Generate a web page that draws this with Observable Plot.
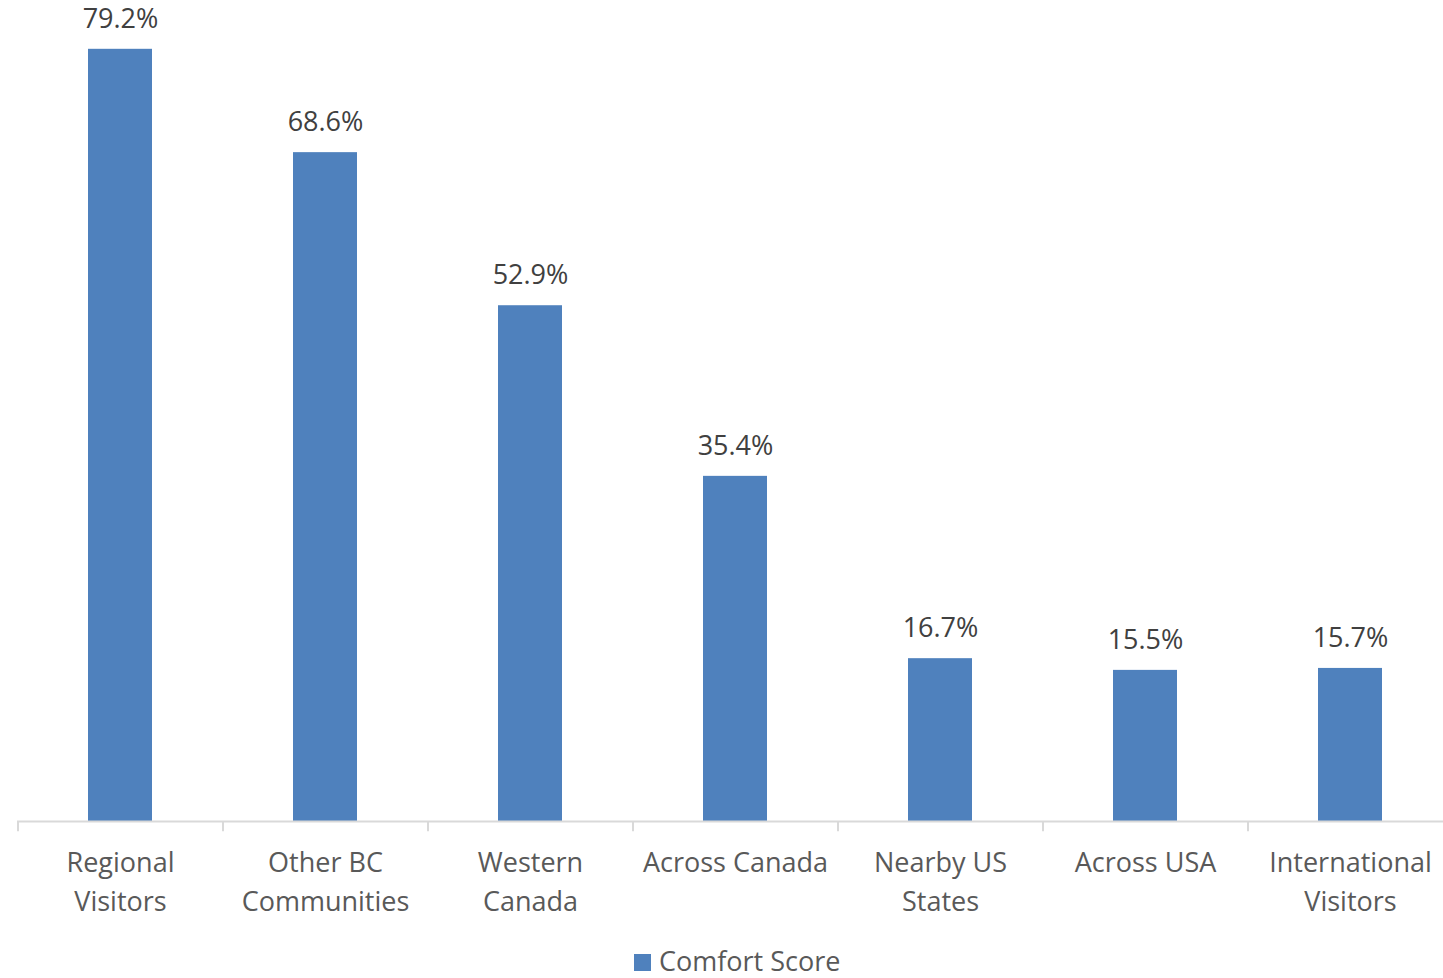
<!DOCTYPE html>
<html>
<head>
<meta charset="utf-8">
<script src="https://cdn.jsdelivr.net/npm/d3@7"></script>
<script src="https://cdn.jsdelivr.net/npm/@observablehq/plot@0.6"></script>
<style>
  html, body { margin: 0; padding: 0; background: #fff; overflow: hidden; }
  #chart svg { display: block; overflow: visible; }
  #legend { position: relative; height: 48px; font-family: "Open Sans", sans-serif; font-size: 27px; color: #595959; }
  #legend .item { position: absolute; left: 634px; top: 12px; display: flex; align-items: center; white-space: nowrap; }
  #legend .sw { width: 17px; height: 17px; background: #4F81BD; margin-right: 8px; margin-top: 4px; }
</style>
</head>
<body>
<div id="chart"></div>
<div id="legend"><div class="item"><span class="sw"></span><span>Comfort Score</span></div></div>
<script>
const categories = ["Regional Visitors", "Other BC Communities", "Western Canada", "Across Canada", "Nearby US States", "Across USA", "International Visitors"];
const tickLabels = ["Regional\nVisitors", "Other BC\nCommunities", "Western\nCanada", "Across Canada", "Nearby US\nStates", "Across USA", "International\nVisitors"];
const comfortScore = [79.2, 68.6, 52.9, 35.4, 16.7, 15.5, 15.7];
const seriesName = "Comfort Score";

const data = categories.map((c, i) => ({category: c, label: tickLabels[i], value: comfortScore[i]}));

const fontFamily = "'Open Sans', sans-serif";
const chart = Plot.plot({
  width: 1443,
  height: 930,
  marginLeft: 17,
  marginRight: 0,
  marginTop: 41,
  marginBottom: 109,
  style: {fontFamily, background: "#fff", overflow: "visible"},
  x: {domain: categories, range: [17, 1452], paddingInner: 0.688, paddingOuter: 0.344, axis: null},
  y: {domain: [0, 80], axis: null},
  marks: [
    Plot.barY(data, {x: "category", y: "value", fill: "#4F81BD"}),
    Plot.ruleY([0], {stroke: "#D9D9D9", strokeWidth: 2}),
    Plot.ruleX(data, {x: "category", dx: -102.5, y1: 0, y2: -1.05, stroke: "#D9D9D9", strokeWidth: 2}),
    Plot.text(data, {x: "category", y: "value", text: d => d.value.toFixed(1) + "%", dy: -30, fontSize: 27, fill: "#404040"}),
    Plot.text(data, {x: "category", y: 0, text: "label", dy: 23, lineAnchor: "top", lineHeight: 1.45, fontSize: 27, fill: "#595959"})
  ]
});
document.getElementById("chart").appendChild(chart);
</script>
</body>
</html>
